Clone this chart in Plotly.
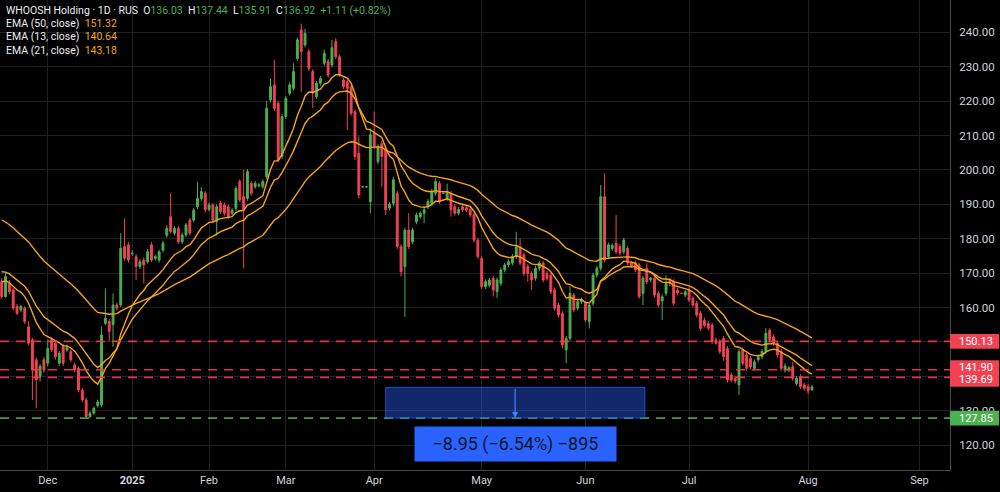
import plotly.graph_objects as go

# ---------------- data ----------------
open_ = [167.5,163.2,167.0,165.1,160.3,159.3,159.8,154.4,150.6,144.8,140.0,144.8,143.8,150.6,149.6,143.8,148.6,147.7,147.2,143.3,
         142.3,136.0,133.1,128.3,129.3,131.5,131.7,155.4,155.9,155.0,160.7,160.7,177.7,178.2,175.6,174.8,171.9,173.8,173.3,178.2,
         174.3,173.8,176.7,181.0,186.4,181.6,183.0,179.1,181.1,185.4,185.4,189.3,191.7,193.2,188.5,189.8,185.0,190.3,189.8,189.3,
         187.4,188.8,196.6,192.2,191.7,196.1,195.1,195.4,195.1,198.0,220.3,224.7,219.4,203.9,215.5,222.3,223.7,232.4,240.7,236.3,
         234.4,228.6,221.3,225.2,231.0,231.5,230.5,237.3,232.9,226.1,225.6,224.2,216.9,204.8,195.1,195.1,190.8,210.6,202.4,207.7,
         205.8,188.9,190.3,193.2,177.7,171.9,182.5,179.1,184.9,186.4,187.4,189.3,190.3,193.2,196.1,193.2,191.7,193.2,189.3,187.4,
         189.3,189.0,188.4,186.9,179.6,174.3,166.1,166.5,168.5,164.6,167.0,170.9,172.4,172.9,174.8,177.7,175.3,171.9,169.9,168.5,
         171.4,172.9,169.9,169.4,165.1,160.7,158.3,147.7,151.0,163.6,159.8,161.7,161.2,155.9,161.2,169.4,171.4,192.2,174.8,177.2,
         178.7,177.7,176.2,177.2,172.9,172.9,172.4,164.1,171.4,168.0,168.5,164.1,161.9,164.1,167.8,167.5,165.0,164.1,163.6,165.1,
         162.7,161.2,158.3,156.3,155.4,154.9,150.6,150.1,151.0,148.1,140.4,139.4,137.5,147.7,146.2,145.2,142.3,144.8,145.7,147.2,
         153.4,151.5,149.6,147.2,141.8,141.8,142.8,137.9,139.9,137.5,137.0,136.03]
high = [168.5,170.0,168.0,165.8,161.0,160.8,160.4,156.0,151.2,145.5,143.6,145.6,150.6,151.4,150.2,147.4,149.4,149.2,147.9,144.0,
        142.9,136.6,133.8,129.8,131.2,133.2,154.4,165.6,156.6,164.1,161.4,181.6,185.9,179.0,176.6,175.5,174.0,174.5,177.0,179.0,
        175.4,176.8,179.4,183.9,193.2,183.6,183.7,181.8,184.6,186.0,189.0,196.6,195.0,193.9,190.5,190.5,190.0,191.0,190.5,190.0,
        188.9,195.3,197.3,200.0,200.2,196.8,196.8,196.2,197.3,220.0,226.6,232.0,220.1,216.2,221.5,225.4,231.0,238.5,242.5,241.0,
        235.1,229.3,225.9,227.3,235.0,232.2,237.8,238.3,233.6,226.8,226.3,224.9,217.6,209.7,195.3,195.3,212.1,217.0,207.5,208.4,
        206.5,190.6,198.0,193.9,178.4,183.2,187.4,183.2,187.6,188.0,189.5,191.5,194.4,197.6,196.8,193.4,196.0,193.9,190.0,189.2,
        189.9,189.6,189.1,187.6,180.3,175.0,168.2,168.7,169.2,168.7,171.6,173.0,174.0,175.5,182.0,180.1,176.0,172.6,170.6,172.1,
        173.6,173.6,170.6,170.1,165.8,161.4,159.0,151.7,166.1,164.3,162.4,162.9,161.9,161.4,170.1,172.1,195.6,199.0,178.9,178.6,
        186.9,178.4,180.3,177.9,173.6,173.6,173.1,169.2,172.9,168.9,169.2,164.8,163.8,169.4,168.5,168.2,165.7,164.3,165.0,165.8,
        163.4,161.9,159.0,157.0,156.1,155.6,151.3,150.8,151.7,148.8,141.1,140.1,147.9,148.4,146.9,145.9,144.9,146.4,147.9,154.0,
        154.0,152.2,150.3,147.9,143.8,142.9,144.2,140.1,140.6,138.2,137.7,137.44]
low = [162.5,162.8,163.8,159.2,157.8,158.6,155.2,149.0,133.1,130.7,138.5,141.0,142.9,147.0,144.9,143.0,143.0,147.0,144.1,141.2,
       135.4,132.4,127.9,127.9,128.8,130.9,131.0,154.8,150.1,148.6,159.2,160.1,173.6,173.1,175.0,168.0,171.2,167.0,172.7,173.2,
       173.6,173.1,176.1,180.3,181.5,180.9,178.4,178.5,180.4,180.9,184.8,188.6,191.0,187.7,187.9,184.7,181.0,187.2,186.7,185.7,
       186.8,188.1,190.6,171.4,191.0,192.5,194.5,195.0,194.5,197.3,219.6,217.2,202.2,203.2,214.8,221.6,223.0,231.7,222.7,235.6,
       228.8,218.0,220.6,224.5,230.3,226.9,229.8,232.2,227.0,223.5,211.6,215.8,202.9,191.7,194.9,194.9,187.4,206.1,201.7,195.1,
       186.9,188.2,189.6,177.0,169.0,157.3,177.0,178.4,184.2,185.8,184.5,188.6,189.6,192.5,190.1,193.0,191.0,186.4,186.7,186.8,
       187.8,187.7,186.2,178.9,174.1,165.4,165.4,165.9,163.2,162.7,166.3,170.2,171.7,172.2,174.1,172.2,169.2,167.5,165.1,167.8,
       170.7,167.3,167.8,163.9,159.1,157.1,148.1,143.8,150.3,158.6,159.1,161.0,155.7,153.9,160.5,168.7,170.7,173.1,174.1,176.5,
       175.5,175.1,175.5,172.2,171.6,170.2,162.5,160.7,166.8,167.3,162.9,160.0,156.4,163.4,166.2,160.5,163.5,163.9,163.0,161.5,
       160.0,157.1,153.2,154.2,153.3,149.4,149.2,146.5,144.5,138.2,138.2,137.9,134.6,143.1,141.6,142.0,141.6,144.1,145.0,146.5,
       149.9,148.9,145.5,141.6,141.1,141.2,138.7,137.2,136.3,135.8,134.8,135.91]
close = [163.2,169.0,164.6,159.8,158.3,160.3,155.9,149.6,141.8,139.0,142.9,141.8,148.1,147.7,145.7,146.7,143.8,148.3,144.8,141.8,
         136.0,133.1,128.3,129.3,130.7,132.5,152.0,156.9,153.0,160.7,159.8,177.2,174.3,173.8,175.8,171.9,173.3,172.4,176.2,173.8,
         174.8,176.2,178.7,183.0,182.1,183.0,179.1,181.1,184.0,181.6,188.3,191.7,193.7,188.4,189.8,185.4,189.3,187.9,187.4,186.4,
         188.3,194.6,191.3,188.4,199.5,193.2,196.1,195.6,196.6,217.9,224.2,217.9,202.9,215.5,220.8,224.7,228.6,237.8,234.4,239.7,
         229.5,222.3,225.2,226.6,233.9,227.6,235.5,232.9,227.6,224.2,223.7,216.5,203.9,192.7,195.1,195.1,210.2,206.8,206.8,203.9,
         188.4,190.0,197.1,177.7,170.4,182.5,177.7,182.5,186.9,187.4,188.4,190.8,193.7,196.6,190.8,193.2,193.7,188.4,187.4,188.5,
         188.4,188.3,186.9,179.6,174.8,166.1,167.5,168.0,165.1,168.0,170.9,172.4,173.3,174.8,177.7,172.9,169.9,169.9,168.0,171.4,
         172.9,168.0,168.5,164.6,159.8,157.8,149.1,151.0,164.1,159.3,161.7,162.2,156.4,160.7,169.4,171.4,192.2,173.8,178.2,178.0,
         176.2,175.8,179.6,172.9,172.0,170.9,163.2,168.5,167.5,168.5,163.6,160.7,163.1,167.0,167.0,161.2,164.2,164.1,164.6,162.2,
         160.7,157.8,153.9,154.8,154.0,150.1,149.6,147.2,145.7,138.9,138.9,138.6,147.2,143.8,142.3,142.7,144.2,145.7,147.2,152.5,
         150.6,149.6,146.2,142.3,143.0,142.5,139.4,139.4,137.0,136.5,135.81,136.92]

# EMA values at the first visible bar, then EMA of closes
ema_periods = [50, 13, 21]
ema_start = [185.5, 167.5, 170.4]
ema_last_text = ["151.32", "140.64", "143.18"]

price_levels_red = [150.13, 141.90, 139.69]
price_level_green = 127.85
measure_text = "\u22128.95 (\u22126.54%) \u2212895"
measure_top = 136.80

month_labels = ["Dec", "<b>2025</b>", "Feb", "Mar", "Apr", "May", "Jun", "Jul", "Aug", "Sep"]
month_bar = [12, 34, 54, 74, 97, 125, 152, 179, 210, 239]
y_ticks = [120, 130, 140, 150, 160, 170, 180, 190, 200, 210, 220, 230, 240]
y_ticks_hidden = [140, 150]   # covered by the price badges in the reference

# ---------------- figure ----------------
bars = list(range(len(close)))
UP = "#4caf50"
DN = "#ef4354"
EMA_C = "#f5a31a"
TXT = "#d1d4dc"

fig = go.Figure()
fig.add_trace(go.Candlestick(
    x=bars, open=open_, high=high, low=low, close=close,
    increasing=dict(line=dict(color=UP, width=1), fillcolor=UP),
    decreasing=dict(line=dict(color=DN, width=1), fillcolor=DN),
    whiskerwidth=0, showlegend=False, hoverinfo="skip"))


def ema(values, period, start):
    a = 2.0 / (period + 1)
    out = [start]
    for v in values[1:]:
        out.append(a * v + (1 - a) * out[-1])
    return out


for p, s in zip(ema_periods, ema_start):
    fig.add_trace(go.Scatter(x=bars, y=ema(close, p, s), mode="lines",
                             line=dict(color=EMA_C, width=1.4), showlegend=False, hoverinfo="skip"))

shapes = []
annotations = []
for lv in price_levels_red:
    shapes.append(dict(type="line", xref="paper", x0=0, x1=1, yref="y", y0=lv, y1=lv,
                       line=dict(color="rgba(242,60,80,0.9)", width=1.7, dash="9px,7px"), layer="above"))
shapes.append(dict(type="line", xref="paper", x0=0, x1=1, yref="y", y0=price_level_green, y1=price_level_green,
                   line=dict(color="rgba(76,175,80,0.9)", width=1.7, dash="9px,7px"), layer="above"))

# measure box
shapes.append(dict(type="rect", xref="x", yref="y", x0=100, x1=167.5, y0=price_level_green, y1=measure_top,
                   fillcolor="rgba(41,98,255,0.42)", line=dict(color="rgba(41,98,255,0.7)", width=1), layer="above"))
annotations.append(dict(x=133.7, y=price_level_green, xref="x", yref="y", ax=133.7, ay=measure_top,
                        axref="x", ayref="y", text="", showarrow=True, arrowhead=2, arrowsize=1,
                        arrowwidth=1.2, arrowcolor="#4a7dff"))
annotations.append(dict(x=133.9, y=120.35, xref="x", yref="y", text=measure_text, showarrow=False,
                        bgcolor="#2962ff", width=201, height=34, borderpad=0,
                        font=dict(family="Roboto", size=18, color="#131722")))

# price badges on the scale (the two close red labels share one badge, nudged apart)
BH = 2.15
badge_w = 49 / 950
shapes.append(dict(type="rect", xref="paper", x0=1.0, x1=1.0 + badge_w, yref="y",
                   y0=price_levels_red[0] - BH, y1=price_levels_red[0] + BH,
                   fillcolor="#ef4354", line=dict(width=0), layer="above"))
shapes.append(dict(type="rect", xref="paper", x0=1.0, x1=1.0 + badge_w, yref="y",
                   y0=price_levels_red[2] - BH - 0.6, y1=price_levels_red[1] + BH + 0.6,
                   fillcolor="#ef4354", line=dict(width=0), layer="above"))
shapes.append(dict(type="rect", xref="paper", x0=1.0, x1=1.0 + badge_w, yref="y",
                   y0=price_level_green - BH, y1=price_level_green + BH,
                   fillcolor="#4caf50", line=dict(width=0), layer="above"))
label_nudge = [0, 2, -2, 0]
for lv, dy in zip(price_levels_red + [price_level_green], label_nudge):
    annotations.append(dict(x=1.0, xref="paper", xanchor="left", xshift=7, y=lv, yref="y", yshift=dy,
                            text=f"{lv:.2f}", showarrow=False,
                            font=dict(family="Roboto", size=11, color="#ffffff")))

# header / legend
G = "#4caf50"
hdr = ("WHOOSH Holding \u00b7 1D \u00b7 RUS  "
       f"O<span style='color:{G}'>136.03</span>  H<span style='color:{G}'>137.44</span>  "
       f"L<span style='color:{G}'>135.91</span>  C<span style='color:{G}'>136.92</span>  "
       f"<span style='color:{G}'>+1.11 (+0.82%)</span>")
rows = [hdr] + [f"EMA ({p}, close)  <span style='color:{EMA_C}'>{t}</span>"
                for p, t in zip(ema_periods, ema_last_text)]
for k, r in enumerate(rows):
    annotations.append(dict(x=0, xref="paper", xanchor="left", xshift=4, y=1, yref="paper", yanchor="middle",
                            yshift=-10 - 13.4 * k, text=r, showarrow=False, align="left",
                            font=dict(family="Roboto", size=10.5, color="#eceef2")))

fig.update_layout(
    width=1000, height=492, margin=dict(l=0, r=50, t=0, b=22),
    paper_bgcolor="#000000", plot_bgcolor="#000000",
    shapes=shapes, annotations=annotations, showlegend=False,
    font=dict(family="Roboto", color=TXT),
    xaxis=dict(type="linear", range=[-0.44, 246.95], tickvals=month_bar, ticktext=month_labels,
               showgrid=True, gridcolor="#1f1f1f", gridwidth=1, zeroline=False,
               showline=True, linecolor="#4a4a4a", linewidth=1, ticks="",
               tickfont=dict(size=11, color=TXT), rangeslider=dict(visible=False), fixedrange=True),
    yaxis=dict(side="right", range=[112.76, 249.39], tickvals=y_ticks,
               ticktext=["" if v in y_ticks_hidden else f"{v:.2f}" for v in y_ticks],
               showgrid=True, gridcolor="#1f1f1f",
               zeroline=False, showline=True, linecolor="#4a4a4a", linewidth=1, ticks="",
               ticklabelstandoff=6, tickfont=dict(size=11.5, color=TXT), fixedrange=True),
)

fig.write_html("out.html", config={"displayModeBar": False})
